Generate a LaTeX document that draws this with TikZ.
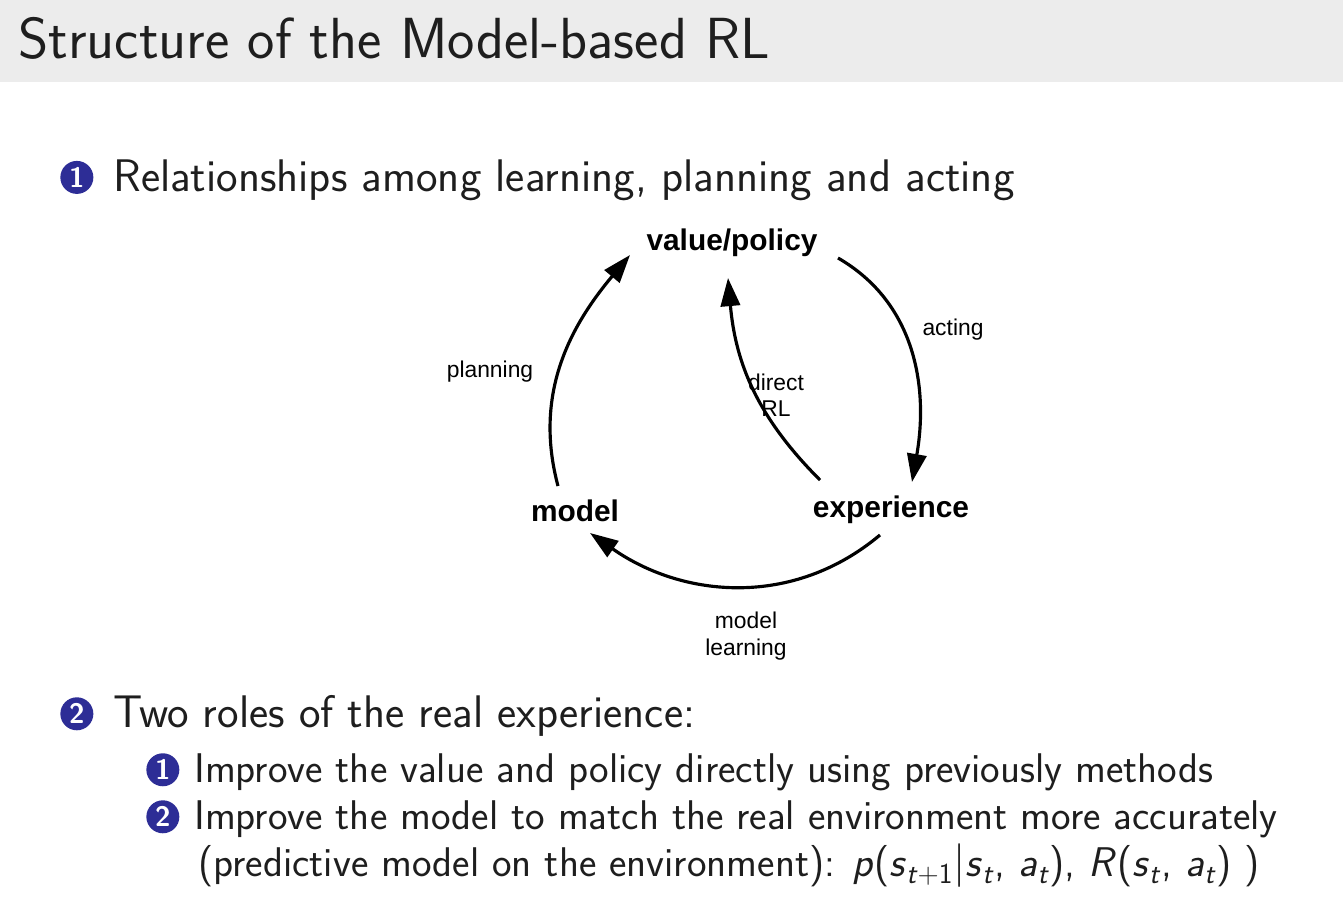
\documentclass[tikz,border=0pt]{standalone}
\usepackage{fontspec}
\setmainfont{Latin Modern Sans}
\newfontfamily\arial{Liberation Sans}
\usetikzlibrary{arrows.meta}
\definecolor{bul}{RGB}{45,45,150}
\definecolor{hdr}{RGB}{236,236,236}
\definecolor{txt}{RGB}{30,30,30}
\newcommand{\bnum}[1]{\tikz[baseline=-0.7ex]\node[circle,fill=bul,inner sep=0pt,minimum size=0.66cm,text=white,font=\fontsize{16}{16}\selectfont\bfseries]{#1};}
\newcommand{\iv}[1]{\textit{#1}}
\newcommand{\sbs}[1]{\textsubscript{#1}}
\begin{document}
\begin{tikzpicture}[x=0.02cm,y=-0.02cm,
  big/.style={font=\arial\bfseries\fontsize{17}{19}\selectfont,inner sep=1pt},
  lab/.style={font=\arial\fontsize{13}{15}\selectfont,align=center,inner sep=1pt},
  body/.style={anchor=west,text=txt,font=\fontsize{26}{30}\selectfont,inner sep=0pt},
  sub/.style={anchor=west,text=txt,font=\fontsize{23.6}{28}\selectfont,inner sep=0pt},
  arr/.style={line width=1.8pt,-{Triangle[length=16pt,width=11pt]}}]
\useasboundingbox (0,0) rectangle (1343,909);
\fill[white] (0,0) rectangle (1343,909);
\fill[hdr] (0,0) rectangle (1343,82);
\node[anchor=west,text=txt,font=\fontsize{33}{38}\selectfont,inner sep=0pt] (title) at (18,38) {Structure of the Model-based RL};
\node[body] (b1) at (60,180) {\bnum{1}\hspace{0.4cm}Relationships among learning, planning and acting};
\node[big] (vp) at (732,243) {value/policy};
\node[big] (model) at (575,511) {model};
\node[big] (exp) at (891,510) {experience};
\coordinate (pl0) at (558,486);
\coordinate (pl1) at (630,255);
\coordinate (ac0) at (838,258);
\coordinate (ac1) at (912,482);
\coordinate (ml0) at (880,535);
\coordinate (ml1) at (590,533);
\coordinate (dr0) at (820,480);
\coordinate (dr1) at (728,278);
\draw[arr] (pl0) to[out=105,in=-130] (pl1);
\draw[arr] (ac0) to[out=-30,in=80] (ac1);
\draw[arr] (ml0) to[out=-140,in=-35] (ml1);
\draw[arr] (dr0) to[out=135,in=-85] (dr1);
\node[lab] (lpl) at (490,372) {planning};
\node[lab] (lac) at (953,330) {acting};
\node[lab] (ldr) at (776,395) {direct\\RL};
\node[lab] (lml) at (746,636) {model\\learning};
\node[body] (b2) at (60,716) {\bnum{2}\hspace{0.4cm}Two roles of the real experience:};
\node[sub] (b21) at (146,772) {\bnum{1}\hspace{0.3cm}Improve the value and policy directly using previously methods};
\node[sub] (b22) at (146,819) {\bnum{2}\hspace{0.3cm}Improve the model to match the real environment more accurately};
\node[sub] (b23) at (198,866) {(predictive model on the environment): \iv{p}(\iv{s}\sbs{\iv{t}+1}$|$\iv{s}\sbs{\iv{t}}, \iv{a}\sbs{\iv{t}}), \iv{R}(\iv{s}\sbs{\iv{t}}, \iv{a}\sbs{\iv{t}}) )};
\end{tikzpicture}
\end{document}
